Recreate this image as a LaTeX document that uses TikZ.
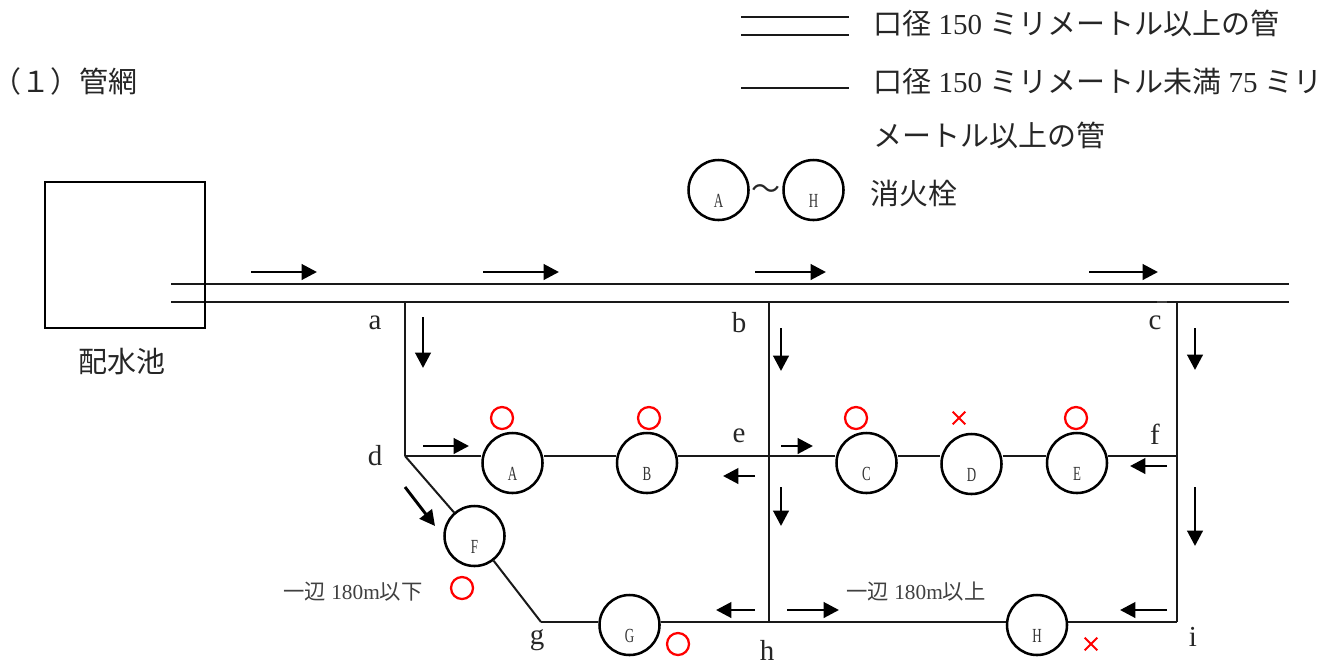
\documentclass[tikz,border=0pt]{standalone}
\usepackage{fontspec}
\setmainfont{Liberation Serif}
\newfontfamily\jp{Noto Sans CJK JP}
\newfontfamily\narrow[FakeStretch=0.65]{Liberation Serif}
\usetikzlibrary{arrows.meta,backgrounds,shapes.misc}
\newcommand{\J}[1]{{\jp #1}}
\tikzset{
  pipe/.style={line width=1.5pt,black!90},
  flow/.style={line width=2.2pt,-{Triangle[length=11.5pt,width=11.5pt]},shorten >=0pt},
  hyd/.style={circle,draw,fill=white,line width=1.9pt,minimum size=45pt,inner sep=0pt,font=\narrow\fontsize{15pt}{15pt}\selectfont,text=black!80},
  okmark/.style={circle,draw=red,line width=1.7pt,minimum size=16.5pt,inner sep=0pt},
  ngmark/.style={cross out,draw=red,line width=1.5pt,minimum size=9.5pt,inner sep=0pt,outer sep=0pt},
  big/.style={font=\fontsize{21.75pt}{24pt}\selectfont,inner sep=0pt,text=black!85},
  small/.style={font=\fontsize{16pt}{18pt}\selectfont,inner sep=0pt,text=black!75},
}
\newcommand{\low}[1]{\smash{\raisebox{-12.75pt}{#1}}}
\begin{document}
\begin{tikzpicture}[x=0.75pt,y=-0.75pt]
\useasboundingbox (0,0) rectangle (1330,662);
% reservoir
\node[draw,line width=1.5pt,minimum width=120pt,minimum height=109.5pt,inner sep=0pt] (pool) at (125,255) {};
\node[big] (poolname) at (122,362) {\J{配水池}};
% junctions
\coordinate (pL1) at (171,284); \coordinate (pR1) at (1289,284);
\coordinate (pL2) at (171,302); \coordinate (pR2) at (1289,302);
\coordinate (a) at (405,302); \coordinate (b) at (769,302); \coordinate (c) at (1177,302);
\coordinate (d) at (405,456); \coordinate (e) at (769,456); \coordinate (f) at (1177,456);
\coordinate (g) at (541,622); \coordinate (h) at (769,622); \coordinate (i) at (1177,622);
% hydrants
\node[hyd] (A) at (512.5,463) {\low{A}};
\node[hyd] (B) at (647,463) {\low{B}};
\node[hyd] (C) at (866.5,463) {\low{C}};
\node[hyd] (D) at (971.5,464) {\low{D}};
\node[hyd] (E) at (1077,463) {\low{E}};
\node[hyd] (F) at (474.5,536) {\low{F}};
\node[hyd] (G) at (629.5,625) {\low{G}};
\node[hyd] (H) at (1037,625) {\low{H}};
% pipes
\begin{pgfonlayer}{background}
\draw[pipe] (pL1) -- (pR1);
\draw[pipe] (pL2) -- (pR2);
\draw[pipe] (a) -- (d);
\draw[pipe] (b) -- (h);
\draw[pipe] (c) -- (i);
\draw[pipe] (d) -- (d -| A.west);
\draw[pipe] (d -| A.east) -- (d -| B.west);
\draw[pipe] (d -| B.east) -- (e);
\draw[pipe] (e) -- (e -| C.west);
\draw[pipe] (e -| C.east) -- (e -| D.west);
\draw[pipe] (e -| D.east) -- (e -| E.west);
\draw[pipe] (e -| E.east) -- (f);
\draw[pipe] (d) -- (F);
\draw[pipe] (F) -- (g);
\draw[pipe] (g) -- (g -| G.west);
\draw[pipe] (g -| G.east) -- (h);
\draw[pipe] (h) -- (h -| H.west);
\draw[pipe] (h -| H.east) -- (i);
\end{pgfonlayer}
\coordinate (tickL) at (1157,302); \coordinate (tickR) at (1167,302);
\draw[line width=2.2pt,black!75] (tickL) -- (tickR);
% flow arrows
\foreach \sx/\sy/\ex/\ey in {
  251/272/317/272, 483/272/559/272, 755/272/826/272, 1089/272/1158/272,
  423/317/423/368, 781/328/781/371, 1195/328/1195/370,
  423/446/469/446, 405/487/435/526, 781/446/813/446, 755/476/723/476,
  781/487/781/526, 1167/466/1130/466, 1195/487/1195/546,
  787/610/839/610, 1167/610/1120/610, 755/610/716/610}
{
  \coordinate (fs) at (\sx,\sy); \coordinate (fe) at (\ex,\ey);
  \draw[flow] (fs) -- (fe);
}
% marks
\node[okmark] (mA) at (502,418) {};
\node[okmark] (mB) at (649,418) {};
\node[okmark] (mC) at (856,418) {};
\node[okmark] (mE) at (1076,418) {};
\node[okmark] (mF) at (462,588) {};
\node[okmark] (mG) at (678,644) {};
\node[ngmark] (mD) at (959,418) {};
\node[ngmark] (mH) at (1091,644) {};
% junction letters
\node[big] (la) at (375,323) {a};
\node[big] (lb) at (739,323) {b};
\node[big] (lc) at (1155,323) {c};
\node[big] (ld) at (375,456) {d};
\node[big] (le) at (739,436) {e};
\node[big] (lf) at (1155,434) {f};
\node[big] (lg) at (537,640) {g};
\node[big] (lh) at (767,650) {h};
\node[big] (li) at (1193,637) {i};
% length notes
\node[small,anchor=west] (n1) at (283,592) {\J{一辺} 180m\J{以下}};
\node[small,anchor=west] (n2) at (846,592) {\J{一辺} 180m\J{以上}};
% title
\node[big,anchor=west] (title) at (-8,81) {\J{（１）管網}};
% legend
\coordinate (l1a) at (741,17); \coordinate (l1b) at (849,17);
\coordinate (l2a) at (741,35); \coordinate (l2b) at (849,35);
\coordinate (l3a) at (741,88); \coordinate (l3b) at (849,88);
\draw[pipe] (l1a) -- (l1b);
\draw[pipe] (l2a) -- (l2b);
\draw[pipe] (l3a) -- (l3b);
\node[big,anchor=west] (t1) at (873,23) {\J{口径} 150 \J{ミリメートル以上の管}};
\node[big,anchor=west] (t2) at (873,81) {\J{口径} 150 \J{ミリメートル未満} 75 \J{ミリ}};
\node[big,anchor=west] (t3) at (873,135) {\J{メートル以上の管}};
\node[hyd] (legA) at (718.5,190) {\low{A}};
\node[hyd] (legH) at (813.5,190) {\low{H}};
\node[big] (tilde) at (766,192) {\J{〜}};
\node[big,anchor=west] (t4) at (870,193) {\J{消火栓}};
\end{tikzpicture}
\end{document}
